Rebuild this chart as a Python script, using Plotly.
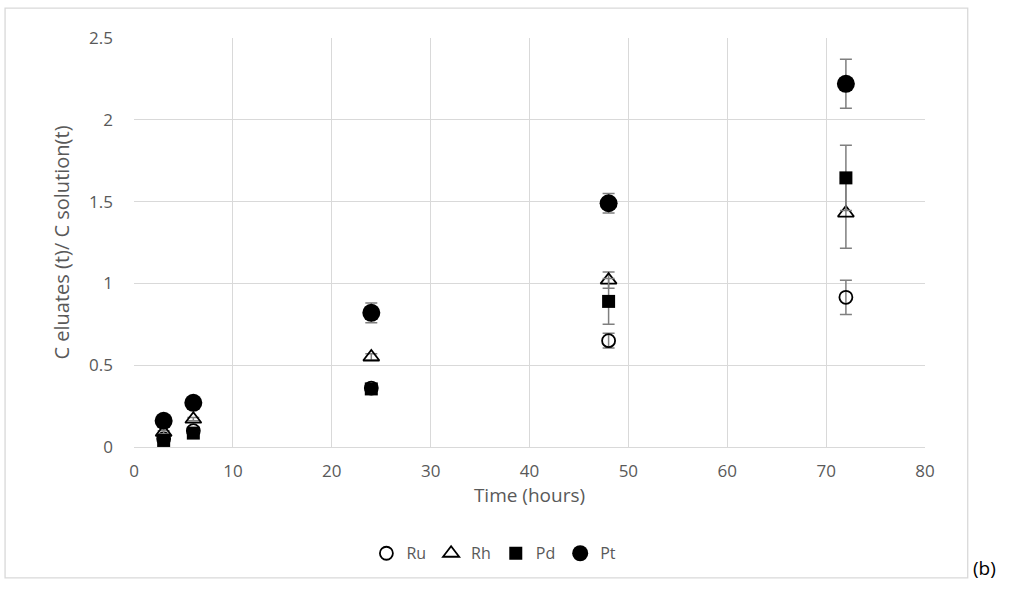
import plotly.graph_objects as go

time_h = [3, 6, 24, 48, 72]
ru = [0.05, 0.10, 0.36, 0.65, 0.915]
ru_err = [0.01, 0.01, 0.02, 0.045, 0.105]
rh = [0.09, 0.17, 0.55, 1.02, 1.43]
rh_err = [0.01, 0.01, 0.02, 0.05, 0.215]
pd_ = [0.04, 0.085, 0.355, 0.89, 1.645]
pd_err = [0.01, 0.01, 0.03, 0.14, 0.2]
pt = [0.16, 0.27, 0.82, 1.49, 2.22]
pt_err = [0.02, 0.02, 0.06, 0.06, 0.15]

x_ticks = [0, 10, 20, 30, 40, 50, 60, 70, 80]
y_ticks = [0, 0.5, 1, 1.5, 2, 2.5]
y_tick_text = ["0", "0.5", "1", "1.5", "2", "2.5"]

FONT = "Open Sans"
TXT = "#595959"
ERRC = "#7f7f7f"

series = [
    ("Ru", ru, ru_err, dict(symbol="circle-open", size=13, color="black", line=dict(width=1.8, color="black"))),
    ("Rh", rh, rh_err, dict(symbol="triangle-up-open", size=14, color="black", line=dict(width=1.8, color="black"))),
    ("Pd", pd_, pd_err, dict(symbol="square", size=13, color="black")),
    ("Pt", pt, pt_err, dict(symbol="circle", size=18, color="black")),
]

fig = go.Figure()
for name, vals, errs, mk in series:
    fig.add_trace(go.Scatter(
        x=time_h, y=vals, mode="markers", name=name, marker=mk,
        error_y=dict(type="data", array=errs, visible=True, color=ERRC, thickness=1.5, width=6),
    ))

fig.update_layout(
    width=1009, height=590,
    margin=dict(l=134, r=84, t=38, b=143),
    paper_bgcolor="white", plot_bgcolor="white",
    font=dict(family=FONT, size=16, color=TXT),
    showlegend=True,
    legend=dict(orientation="h", x=0.455, y=-0.26, xanchor="center", yanchor="middle",
                font=dict(size=16, color=TXT), itemwidth=30, tracegroupgap=0),
    xaxis=dict(range=[0, 80], tickvals=x_ticks, ticktext=[str(v) for v in x_ticks],
               showgrid=True, gridcolor="#d9d9d9", gridwidth=1.4, zeroline=False,
               showline=True, linecolor="#d9d9d9", linewidth=1.4, ticks="",
               ticklabelstandoff=8, tickfont=dict(size=17),
               title=dict(text="Time (hours)", font=dict(size=19, color=TXT), standoff=6)),
    yaxis=dict(range=[0, 2.5], tickvals=y_ticks, ticktext=y_tick_text,
               showgrid=True, gridcolor="#d9d9d9", gridwidth=1.4, zeroline=False,
               showline=False, ticks="", ticklabelstandoff=20, tickfont=dict(size=17),
               title=dict(text="C eluates (t)/ C solution(t)", font=dict(size=20, color=TXT), standoff=14)),
    shapes=[dict(type="rect", xref="paper", yref="paper",
                 x0=-0.163, x1=1.054, y0=-0.320, y1=1.073,
                 line=dict(color="#d9d9d9", width=1.3), fillcolor="rgba(0,0,0,0)", layer="below")],
    annotations=[dict(text="(b)", xref="paper", yref="paper", x=1.058, y=-0.295,
                      xanchor="left", yanchor="middle", showarrow=False,
                      font=dict(size=19, color="black", family=FONT))],
)

fig.write_html("out.html", config={"displayModeBar": False},
               post_script="document.body.style.margin='0px';")
